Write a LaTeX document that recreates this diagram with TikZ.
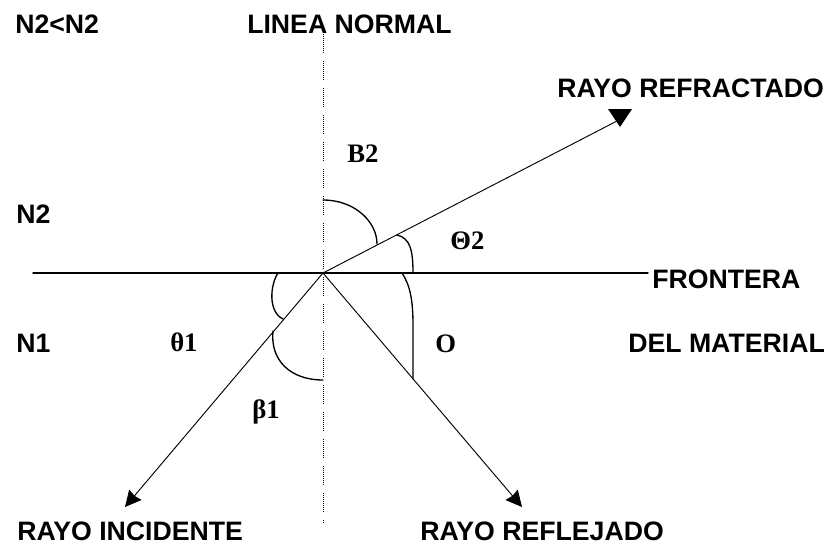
\documentclass[tikz,border=0pt]{standalone}
\usepackage{fontspec}
\setmainfont{Liberation Sans}
\newfontfamily\serifgr{Liberation Serif}
\usetikzlibrary{arrows.meta}
\tikzset{
  rotulo/.style={font=\bfseries\fontsize{20}{24}\selectfont, inner sep=0pt, anchor=base west},
  angulo/.style={font=\serifgr\bfseries\fontsize{20}{24}\selectfont, inner sep=0pt, anchor=base west},
  rayo/.style={line width=.7pt},
  arco/.style={line width=1pt},
  lineanormal/.style={line width=.7pt, line cap=butt,
    dash pattern=on .75pt off .75pt on .75pt off .75pt on .75pt off .75pt on .75pt off .75pt
      on .75pt off .75pt on .75pt off .75pt on .75pt off .75pt on .75pt off .75pt
      on .75pt off .75pt on .75pt off 6pt}
}
\begin{document}
\begin{tikzpicture}[x=.75pt, y=-.75pt, >={Stealth[length=12pt,width=12pt,inset=1pt]}, line join=round, line cap=round]
				\useasboundingbox (0,0) rectangle (837,546);
				\node[rotulo] (n2n2) at (15,33) {N2<N2};
				\node[rotulo] (linea) at (247,33) {LINEA NORMAL};
				\node[rotulo] (refractado) at (557,97) {RAYO REFRACTADO};
				\node[angulo] (b2) at (347,162) {B2};
				\node[rotulo] (n2) at (16,223) {N2};
				\node[angulo] (theta2) at (450,249) {Θ2};
				\node[rotulo] (frontera) at (652,288) {FRONTERA};
				\node[rotulo] (n1) at (16,352) {N1};
				\node[angulo] (theta1) at (170,351) {θ1};
				\node[angulo] (o) at (435,352) {O};
				\node[rotulo] (material) at (628,352) {DEL MATERIAL};
				\node[angulo] (beta1) at (252,418) {β1};
				\node[rotulo] (incidente) at (17,540) {RAYO INCIDENTE};
				\node[rotulo] (reflejado) at (420,540) {RAYO REFLEJADO};
				\coordinate (O) at (323,273);
				\coordinate (izq) at (33,273);
				\coordinate (abajo) at (323,522);
				\coordinate (inc) at (125,507);
				\coordinate (ref) at (522,507);
				\coordinate (refr) at (617,121);
				\draw[line width=1pt] (izq) -- ([xshift=-3pt]frontera.west |- O);
				\draw[lineanormal] (O |- linea.south) -- (abajo);
				\draw[rayo] (O) -- (refr);
				\fill (refr) ++(-9,-12) -- ++(24,0) -- ++(-12,18) -- cycle;
				\draw[rayo,->] (O) -- (inc);
				\draw[rayo,->] (O) -- (ref);
%				angulos
				\draw[arco] (323,200) .. controls (355,200) and (377,222) .. (377,244);
				\draw[arco] (397,235) .. controls (410,238) and (413,250) .. (413,273);
				\draw[arco] (402,273) .. controls (410,285) and (413,300) .. (413,325) -- (413,379);
				\draw[arco] (278,273) .. controls (270,285) and (268,312) .. (283,319);
				\draw[arco] (273,331) .. controls (270,360) and (290,380) .. (323,380);
			\end{tikzpicture}
\end{document}
